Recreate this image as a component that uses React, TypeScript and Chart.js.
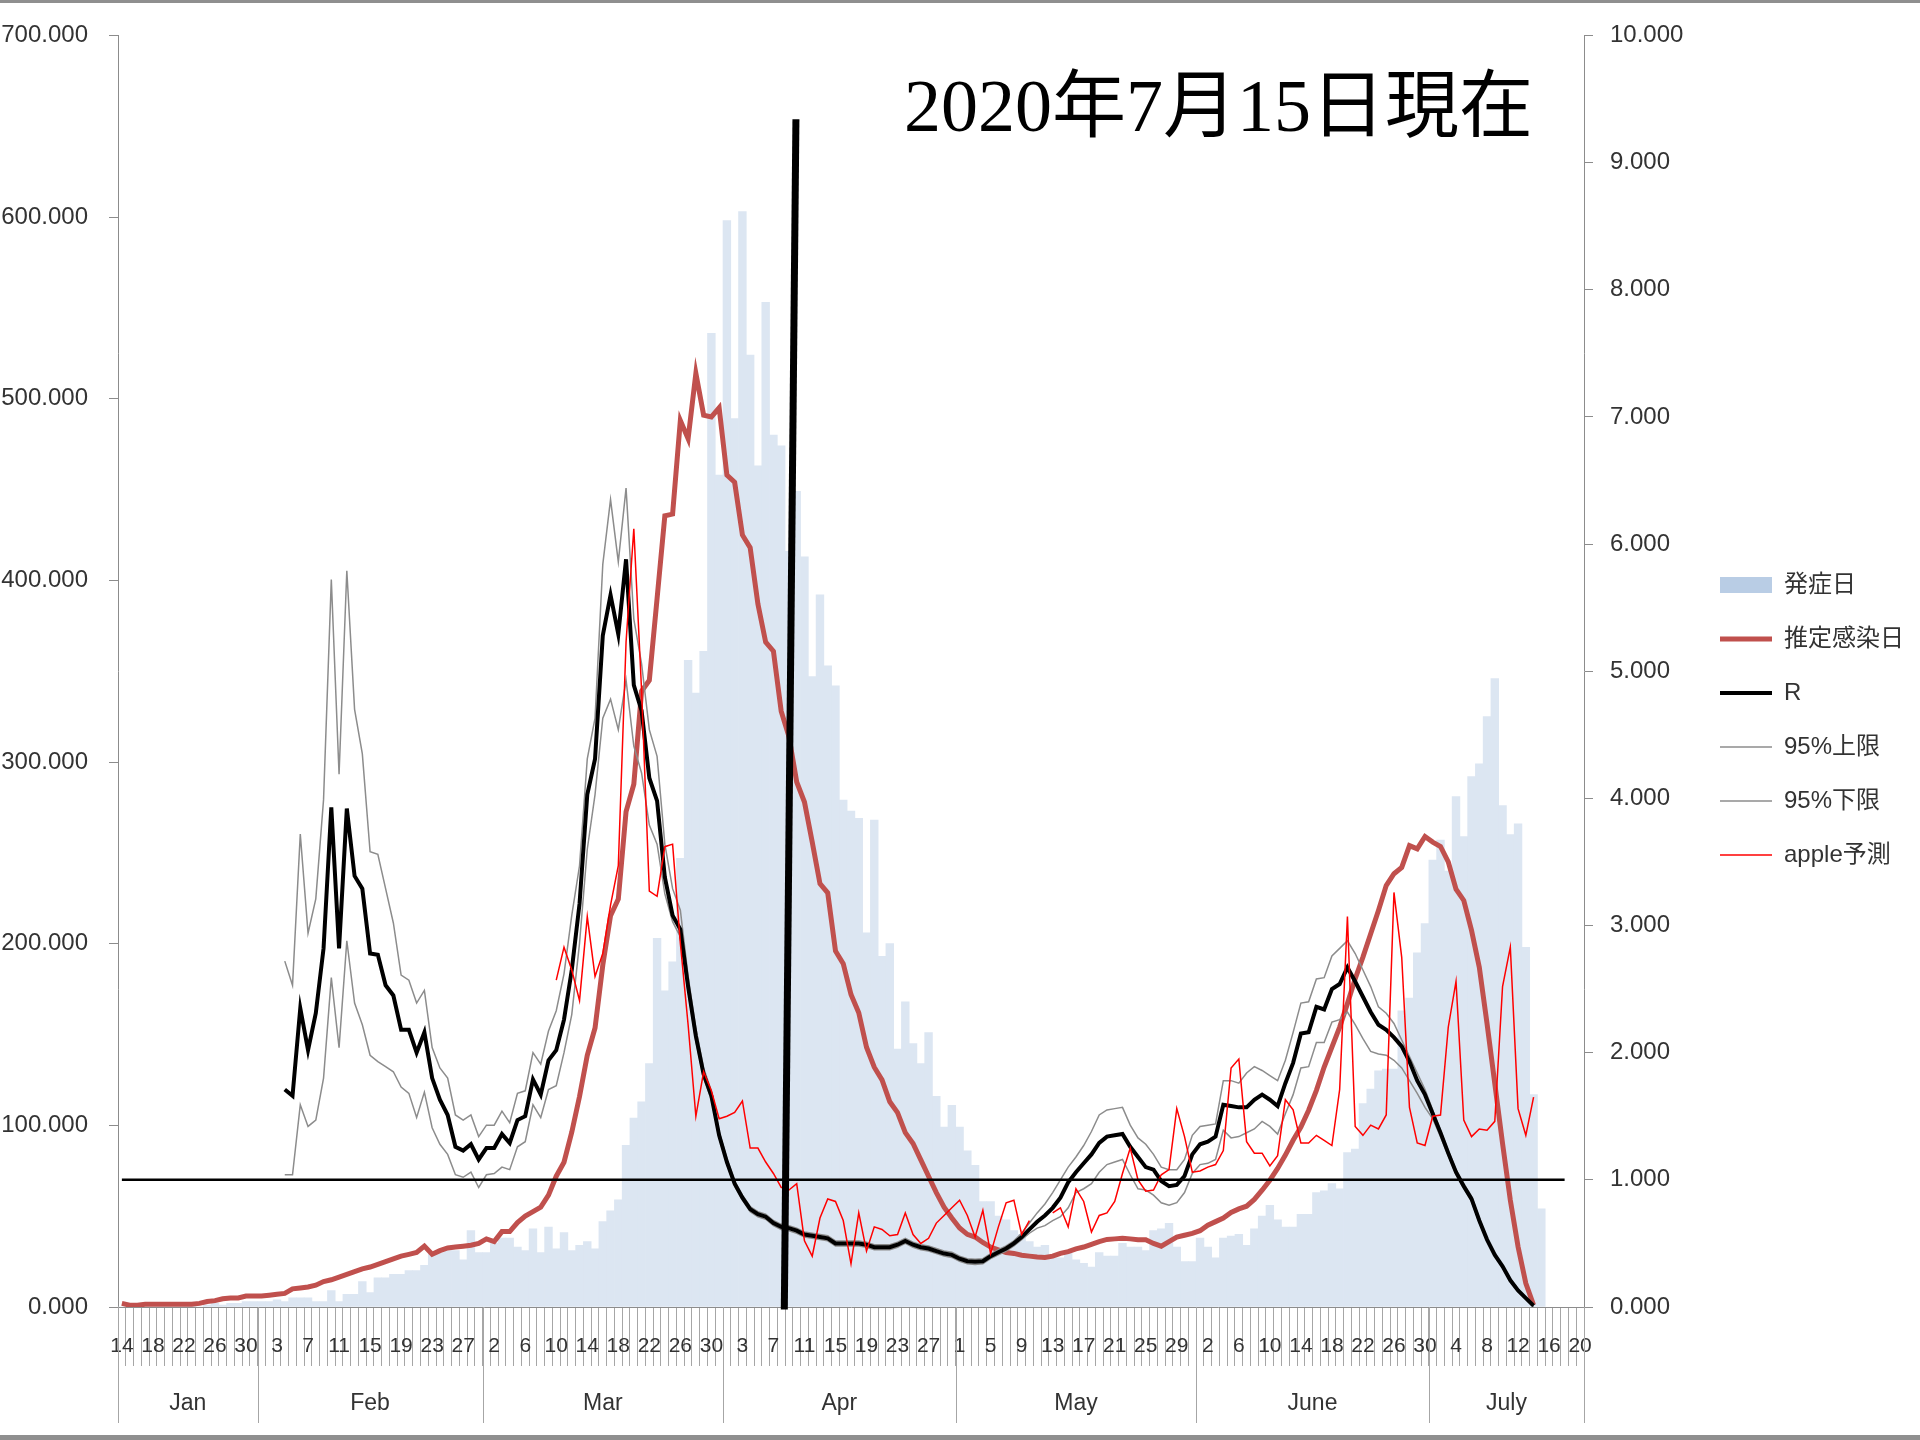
import React, { useEffect, useRef } from 'react';
import { Chart, registerables } from 'chart.js';

Chart.register(...registerables);

const FONT = '"Liberation Sans", "Noto Sans CJK JP", sans-serif';
const TITLE_FONT = '"Liberation Serif", "Noto Sans CJK JP", serif';

// ---- calendar (category axis) ----
const monthNames = ['Jan', 'Feb', 'Mar', 'Apr', 'May', 'June', 'July'];
const monthFirstDay = [14, 1, 1, 1, 1, 1, 1];
const monthLastDay = [31, 29, 31, 30, 31, 30, 20];

const dayLabels: string[] = [];
const monthStartIndex: number[] = [];
monthNames.forEach((_, m) => {
  monthStartIndex.push(dayLabels.length);
  for (let d = monthFirstDay[m]; d <= monthLastDay[m]; d++) dayLabels.push(String(d));
});
const labelEvery = 4;

// ---- 発症日 (left axis), starts Jan 14 ----
const onsetCases = [
  0, 0, 0, 0, 0, 0, 0, 0, 1, 1, 0, 1, 2, 1, 2, 2, 3, 3,
  3, 3, 4, 3, 5, 5, 5, 3, 3, 9, 3, 7, 7, 14, 8, 16, 16, 18, 18, 20, 20, 23, 30, 30, 31, 31, 26, 42, 30, 30, 35, 38, 38, 33, 31,
  43, 30, 44, 32, 41, 31, 34, 36, 32, 47, 53, 59, 89, 104, 113, 134, 203, 174, 190,
  247, 356, 338, 361, 536, 458, 598, 489, 603, 524, 463, 553, 480, 474, 416, 449, 413, 347, 392, 353,
  342, 279, 273, 269, 206, 268, 193, 200, 142, 168, 145, 134, 151, 116, 99, 111, 99, 86, 78, 58,
  58, 50, 48, 42, 40, 36, 33, 34, 27, 27, 30, 26, 24, 22, 30, 28, 28, 35, 33, 33, 31, 42, 43, 46, 33, 25, 25, 38, 33, 27, 38, 39,
  40, 34, 43, 50, 56, 48, 44, 44, 51, 51, 63, 64, 68, 65, 85, 87, 112, 120, 130, 131,
  131, 163, 170, 195, 211, 246, 257, 240, 281, 259, 292, 299, 325, 346, 276, 260, 266, 198, 117, 54,
];

// ---- 推定感染日 (left axis), starts Jan 14 ----
const infectedEst = [
  2, 1, 1, 1.5, 1.5, 1.5, 1.5, 1.5, 1.5, 1.5, 2, 3, 3.5, 4.5, 5, 5, 6, 6,
  6, 6.5, 7, 7.5, 10, 10.5, 11, 12, 14, 15, 16.5, 18, 19.5, 21, 22, 23.5, 25, 26.5, 28, 29, 30, 33.5, 29, 31, 32.5, 33, 33.5, 34, 35, 37.5, 36, 41.5, 41.5, 46.5, 50,
  52.5, 55, 61.6, 72, 79.7, 96.2, 115.9, 138.6, 153.6, 188.2, 215.4, 224.5, 272.7, 287.8, 339, 345, 390, 435.5, 436.5,
  488, 478, 514, 491, 490, 495, 458, 454, 425, 418, 387, 366, 361, 328, 314, 289, 278, 256, 233, 228,
  196, 189, 172, 162, 143, 132, 125, 113, 107, 96, 90, 81, 72, 63, 55, 49, 43.5,
  40, 38.5, 35.5, 33, 31.5, 30, 29.5, 28.5, 28, 27.5, 27.3, 28, 29.5, 30.5, 32, 33, 34.5, 36, 37.2, 37.5,
  37.8, 37.5, 37, 37, 35, 33.5, 36, 38.5, 39.5, 40.5, 42, 45, 47, 49, 52, 54,
  55.5, 59.2, 64.3, 69.8, 76.3, 83.6, 91.8, 99.1, 108.3, 119.3, 132.1, 143.1, 154.1, 167, 180.7, 192.6, 205.5, 218.3, 232, 238.5,
  242, 254, 252.2, 259, 255.9, 253.5, 245, 230, 223.8, 207.3, 187.1, 156, 123, 90, 58.8, 33.2, 13, 1.1,
];

// ---- R and its 95% bounds (right axis), start Feb 4 (index 21) ----
const rStartIndex = 21;
const rValues = [
  1.71, 1.66, 2.35, 2.02, 2.31, 2.82, 3.93, 2.82, 3.92, 3.39, 3.29, 2.78, 2.77, 2.53, 2.45, 2.18, 2.18, 2.0, 2.16, 1.8,
  1.63, 1.51, 1.26, 1.23, 1.28, 1.16, 1.25, 1.25, 1.36, 1.29, 1.47, 1.5,
  1.79, 1.67, 1.94, 2.02, 2.26, 2.65, 3.17, 4.03, 4.31, 5.28, 5.6, 5.29, 5.88, 4.89, 4.69, 4.16, 3.98, 3.38, 3.08, 2.97,
  2.52, 2.13, 1.83, 1.66, 1.35, 1.14, 0.97, 0.86, 0.77, 0.73, 0.71, 0.66, 0.63, 0.62, 0.6, 0.57, 0.56, 0.55,
  0.54, 0.5, 0.5, 0.5, 0.5, 0.49, 0.47, 0.47, 0.47, 0.49, 0.52, 0.49, 0.47, 0.46, 0.44, 0.42, 0.41, 0.38, 0.36, 0.355,
  0.36, 0.4, 0.43, 0.46, 0.5, 0.55, 0.61, 0.67, 0.72, 0.78, 0.86,
  0.98, 1.06, 1.13, 1.2, 1.29, 1.34, 1.35, 1.36, 1.26, 1.18, 1.1, 1.08, 0.99, 0.95, 0.96, 1.03, 1.2, 1.28, 1.3, 1.34,
  1.59, 1.58, 1.57, 1.57, 1.63, 1.67, 1.63, 1.58, 1.76, 1.92, 2.15, 2.16, 2.36, 2.34, 2.5, 2.54, 2.67, 2.56, 2.44, 2.32,
  2.22, 2.18, 2.12, 2.05, 1.93, 1.78, 1.67, 1.52, 1.37, 1.21, 1.06, 0.95, 0.85, 0.68, 0.53, 0.41, 0.32, 0.21, 0.13, 0.07, 0.01,
];
const rUpper = [
  2.72, 2.53, 3.72, 2.94, 3.21, 3.99, 5.72, 4.19, 5.79, 4.7, 4.35, 3.58, 3.56, 3.29, 3.02, 2.61, 2.57, 2.39, 2.49, 2.04,
  1.88, 1.8, 1.51, 1.47, 1.51, 1.34, 1.43, 1.43, 1.54, 1.45, 1.68, 1.7,
  2.0, 1.91, 2.17, 2.33, 2.62, 3.08, 3.47, 4.31, 4.63, 5.84, 6.35, 5.86, 6.44, 5.41, 5.06, 4.54, 4.33, 3.64, 3.29, 3.12,
  2.6, 2.19, 1.88, 1.7, 1.38, 1.17, 0.99,
  0.88, 0.79, 0.75, 0.73, 0.68, 0.65, 0.64, 0.62, 0.59, 0.58, 0.57, 0.56, 0.52, 0.52, 0.52, 0.52, 0.51, 0.49, 0.49, 0.49,
  0.51, 0.54, 0.51, 0.49, 0.48, 0.46, 0.44, 0.43, 0.4, 0.38, 0.375, 0.38, 0.42, 0.45, 0.48, 0.52,
  0.58, 0.66, 0.74, 0.81, 0.9, 1.0, 1.1, 1.18, 1.27, 1.38, 1.51, 1.55, 1.56, 1.57, 1.43, 1.33, 1.28, 1.2, 1.1, 1.08,
  1.08, 1.16, 1.35, 1.42, 1.43, 1.44,
  1.78, 1.78, 1.76, 1.84, 1.89, 1.86, 1.82, 1.78, 1.94, 2.16, 2.39, 2.4, 2.58, 2.59, 2.76, 2.82, 2.88, 2.78, 2.65, 2.52,
  2.36, 2.31, 2.23, 2.1, 1.97, 1.84, 1.71, 1.55, 1.39, 1.23, 1.08, 0.97, 0.87, 0.7, 0.54, 0.42, 0.33, 0.22, 0.14, 0.07, 0.01,
];
const rLower = [
  1.04, 1.04, 1.59, 1.42, 1.47, 1.8, 2.59, 2.04, 2.88, 2.39, 2.22, 1.98, 1.93, 1.89, 1.85, 1.73, 1.68, 1.49, 1.69, 1.41,
  1.28, 1.2, 1.04, 1.02, 1.06, 0.94, 1.04, 1.05, 1.1, 1.08, 1.26, 1.3,
  1.59, 1.49, 1.71, 1.74, 2.0, 2.3, 2.86, 3.6, 4.03, 4.63, 4.78, 4.54, 4.93, 4.41, 4.2, 3.79, 3.64, 3.25, 3.03, 2.91,
  2.48, 2.09, 1.8, 1.63, 1.33, 1.12, 0.95,
  0.84, 0.75, 0.71, 0.69, 0.64, 0.61, 0.6, 0.58, 0.55, 0.54, 0.53, 0.52, 0.48, 0.48, 0.48, 0.48, 0.47, 0.45, 0.45, 0.45,
  0.47, 0.5, 0.47, 0.45, 0.44, 0.42, 0.4, 0.39, 0.36, 0.34, 0.335, 0.34, 0.38, 0.41, 0.44, 0.48, 0.53, 0.58,
  0.62, 0.64, 0.68, 0.71, 0.78, 0.9, 0.93, 0.97, 1.06, 1.12, 1.14, 1.16, 1.04, 0.93, 0.92, 0.88, 0.82, 0.8, 0.82, 0.9,
  1.05, 1.12, 1.13, 1.16,
  1.39, 1.33, 1.34, 1.37, 1.4, 1.46, 1.42, 1.36, 1.52, 1.67, 1.88, 1.89, 2.08, 2.08, 2.24, 2.26, 2.32, 2.22, 2.11, 2.01,
  1.99, 1.98, 1.94, 1.88, 1.78, 1.68, 1.57, 1.48, 1.34, 1.19, 1.04, 0.93, 0.83, 0.66, 0.52, 0.4, 0.31, 0.2, 0.12, 0.06, 0.0,
];

// ---- apple予測 (right axis), starts Mar 10 (index 56) ----
const appleStartIndex = 56;
const applePred = [
  2.57, 2.83, 2.65, 2.41, 3.07, 2.6, 2.78, 3.16, 3.47, 5.23, 6.12, 4.85, 3.27, 3.23, 3.62, 3.64, 2.86, 2.22, 1.5, 1.85,
  1.7, 1.48, 1.5, 1.53, 1.62, 1.25, 1.25, 1.14, 1.05, 0.94, 0.92, 0.97, 0.52, 0.4, 0.7,
  0.85, 0.83, 0.68, 0.34, 0.74, 0.44, 0.63, 0.61, 0.56, 0.57, 0.74, 0.57, 0.5, 0.54, 0.66, 0.72, 0.78, 0.84, 0.72, 0.55,
  0.76, 0.42, 0.63, 0.82, 0.84, 0.57, 0.68, null, null, 0.74, 0.78, 0.63, 0.93, 0.83, 0.59, 0.72, 0.74, 0.83, 1.05, 1.25,
  1.0, 0.91, 0.92, 1.04, 1.08, 1.56, 1.34, 1.06, 1.07, 1.1, 1.12,
  1.23, 1.88, 1.95, 1.3, 1.21, 1.21, 1.11, 1.19, 1.63, 1.55, 1.29, 1.29, 1.35, 1.31, 1.27, 1.71, 3.07, 1.42, 1.35, 1.43,
  1.4, 1.51, 3.26, 2.75, 1.57, 1.29, 1.27, 1.5, 1.51, 2.2, 2.56, 1.47, 1.34, 1.4, 1.39, 1.46, 2.52, 2.83, 1.56, 1.35, 1.65,
];

// ---- reference line R = 1 and the hand-drawn marker line ----
const thresholdR = 1;
const thresholdLastIndex = 186;
const markerLineX = [85.4, 86.9];
const markerLineY = [-0.02, 9.34];
const titleText = '2020年7月15日現在';

const pad = (vals: (number | null)[], start: number) =>
  dayLabels.map((_, i) => (i >= start && i - start < vals.length ? vals[i - start] : null));

const BAR_COLOR = '#dce6f2';
const LEGEND_BAR_COLOR = '#b9cde5';
const AXIS_COLOR = '#8c8c8c';
const TEXT_COLOR = '#333333';

const decorPlugin = {
  id: 'decor',
  beforeDraw(chart: any) {
    const { ctx, width, height } = chart;
    ctx.save();
    ctx.fillStyle = '#8f8f8f';
    ctx.fillRect(0, 0, width, 3);
    ctx.fillRect(0, height - 5, width, 5);
    ctx.restore();
  },
  afterDatasetsDraw(chart: any) {
    const { ctx } = chart;
    const xs = chart.scales.x;
    const ys = chart.scales.y1;
    ctx.save();
    ctx.strokeStyle = '#000';
    ctx.lineWidth = 7;
    ctx.beginPath();
    ctx.moveTo(xs.getPixelForValue(markerLineX[0]), ys.getPixelForValue(markerLineY[0]));
    ctx.lineTo(xs.getPixelForValue(markerLineX[1]), ys.getPixelForValue(markerLineY[1]));
    ctx.stroke();
    ctx.restore();
  },
  afterDraw(chart: any) {
    const { ctx, chartArea } = chart;
    const xs = chart.scales.x;
    const bottom = chartArea.bottom;
    ctx.save();
    ctx.strokeStyle = '#a6a6a6';
    ctx.lineWidth = 1;
    const bounds = [...monthStartIndex, dayLabels.length];
    bounds.forEach((b) => {
      const px = Math.round(xs.getPixelForValue(b - 0.5)) + 0.5;
      ctx.beginPath();
      ctx.moveTo(px, bottom);
      ctx.lineTo(px, bottom + 116);
      ctx.stroke();
    });
    ctx.fillStyle = TEXT_COLOR;
    ctx.font = `23px ${FONT}`;
    ctx.textAlign = 'center';
    ctx.textBaseline = 'middle';
    monthNames.forEach((name, m) => {
      const a = xs.getPixelForValue(bounds[m] - 0.5);
      const b = xs.getPixelForValue(bounds[m + 1] - 0.5);
      ctx.fillText(name, (a + b) / 2, bottom + 97);
    });
    ctx.fillStyle = '#000';
    ctx.font = `74px ${TITLE_FONT}`;
    ctx.textAlign = 'right';
    ctx.textBaseline = 'alphabetic';
    ctx.fillText(titleText, chartArea.right - 51, chartArea.top + 96);
    ctx.restore();
  },
};

export default function App() {
  const ref = useRef<HTMLCanvasElement>(null);
  useEffect(() => {
    document.body.style.margin = '0';
    document.body.style.overflow = 'hidden';
    Chart.defaults.font.family = FONT;
    const datasets: any[] = [
      {
        type: 'bar', label: '発症日', data: pad(onsetCases, 0), yAxisID: 'y',
        backgroundColor: BAR_COLOR, borderWidth: 0, barPercentage: 1, categoryPercentage: 1,
        order: 10, pointStyle: 'rect',
      },
      {
        type: 'line', label: '推定感染日', data: pad(infectedEst, 0), yAxisID: 'y',
        borderColor: '#c0504d', borderWidth: 5, pointRadius: 0, tension: 0, order: 5, pointStyle: 'line',
      },
      {
        type: 'line', label: 'R', data: pad(rValues, rStartIndex), yAxisID: 'y1',
        borderColor: '#000000', borderWidth: 4, pointRadius: 0, tension: 0, order: 2, pointStyle: 'line',
      },
      {
        type: 'line', label: '95%上限', data: pad(rUpper, rStartIndex), yAxisID: 'y1',
        borderColor: '#8c8c8c', borderWidth: 1.5, pointRadius: 0, tension: 0, order: 3, pointStyle: 'line',
      },
      {
        type: 'line', label: '95%下限', data: pad(rLower, rStartIndex), yAxisID: 'y1',
        borderColor: '#8c8c8c', borderWidth: 1.5, pointRadius: 0, tension: 0, order: 3, pointStyle: 'line',
      },
      {
        type: 'line', label: 'apple予測', data: pad(applePred, appleStartIndex), yAxisID: 'y1',
        borderColor: '#ff0000', borderWidth: 1.5, pointRadius: 0, tension: 0, order: 1, pointStyle: 'line',
      },
      {
        type: 'line', label: 'R=1', data: dayLabels.map((_, i) => (i <= thresholdLastIndex ? thresholdR : null)),
        yAxisID: 'y1', borderColor: '#000000', borderWidth: 2.5, pointRadius: 0, order: 0,
        hideFromLegend: true,
      },
    ];
    const chart = new Chart(ref.current as HTMLCanvasElement, {
      type: 'bar',
      data: { labels: dayLabels, datasets },
      plugins: [decorPlugin],
      options: {
        responsive: false,
        maintainAspectRatio: false,
        animation: false,
        devicePixelRatio: 1,
        layout: { padding: { top: 34, left: 0, right: 6, bottom: 34 } },
        plugins: {
          tooltip: { enabled: false },
          legend: {
            position: 'right',
            align: 'center',
            labels: {
              usePointStyle: true,
              pointStyleWidth: 52,
              boxHeight: 16,
              padding: 30,
              color: TEXT_COLOR,
              font: { size: 24, family: FONT },
              filter: (item: any, data: any) => !data.datasets[item.datasetIndex].hideFromLegend,
              sort: (a: any, b: any) => a.datasetIndex - b.datasetIndex,
              generateLabels: (c: any) => {
                const items = (Chart.defaults.plugins.legend.labels as any).generateLabels(c);
                items.forEach((it: any) => {
                  const ds = c.data.datasets[it.datasetIndex];
                  if (ds.type === 'bar') {
                    it.fillStyle = LEGEND_BAR_COLOR;
                    it.strokeStyle = LEGEND_BAR_COLOR;
                    it.lineWidth = 0;
                    it.pointStyle = 'rect';
                  } else {
                    it.strokeStyle = ds.borderColor;
                    it.fillStyle = ds.borderColor;
                    it.lineWidth = ds.borderWidth;
                    it.pointStyle = 'line';
                  }
                });
                return items;
              },
            },
          },
        },
        scales: {
          x: {
            type: 'category',
            offset: true,
            grid: { offset: true, drawOnChartArea: false, drawTicks: true, tickLength: 59, color: '#a6a6a6', tickColor: '#a6a6a6' },
            border: { color: AXIS_COLOR, width: 1 },
            ticks: {
              autoSkip: false, maxRotation: 0, minRotation: 0, padding: -32,
              color: TEXT_COLOR, font: { size: 21, family: FONT },
              callback: (_v: any, index: number) => (index % labelEvery === 0 ? dayLabels[index] : ''),
            },
            afterFit: (s: any) => { s.height = 99; },
          },
          y: {
            type: 'linear', position: 'left', min: 0, max: 700,
            grid: { drawOnChartArea: false, tickLength: 9, color: AXIS_COLOR },
            border: { color: AXIS_COLOR, width: 1 },
            ticks: {
              stepSize: 100, padding: 21, color: TEXT_COLOR, font: { size: 24, family: FONT },
              callback: (v: any) => Number(v).toFixed(3),
            },
            afterFit: (s: any) => { s.width = 118; },
          },
          y1: {
            type: 'linear', position: 'right', min: 0, max: 10,
            grid: { drawOnChartArea: false, tickLength: 9, color: AXIS_COLOR },
            border: { color: AXIS_COLOR, width: 1 },
            ticks: {
              stepSize: 1, padding: 17, color: TEXT_COLOR, font: { size: 24, family: FONT },
              callback: (v: any) => Number(v).toFixed(3),
            },
            afterFit: (s: any) => {
              const lw = s.chart.legend ? s.chart.legend.width : 0;
              s.width = Math.max(60, s.chart.width - 6 - lw - 1584);
            },
          },
        },
      } as any,
    });
    return () => chart.destroy();
  }, []);
  return <canvas ref={ref} width={1920} height={1440} style={{ display: 'block', width: 1920, height: 1440 }} />;
}
